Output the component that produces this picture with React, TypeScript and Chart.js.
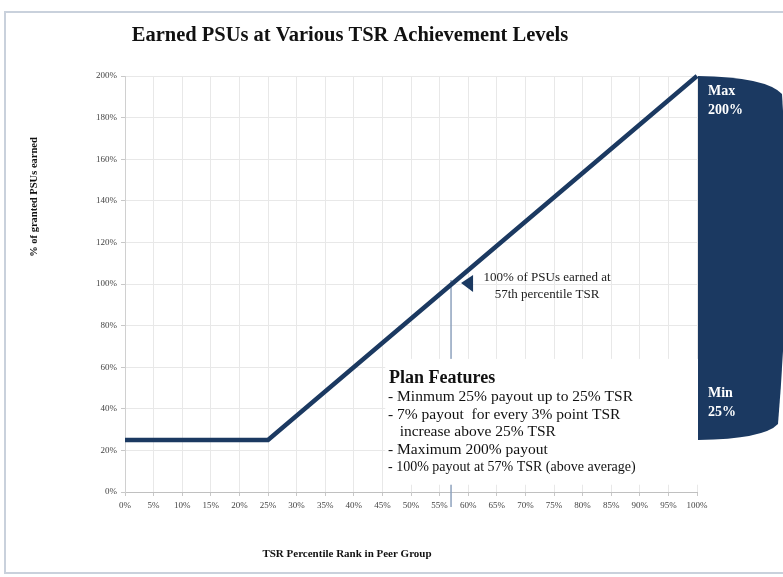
import React, { useEffect, useRef } from "react";
import { Chart, registerables } from "chart.js";

Chart.register(...registerables);

const tsrPercentile = [0, 25, 100];
const payoutPercent = [25, 25, 200];
const xTickStep = 5;
const yTickStep = 20;
const chartTitle = "Earned PSUs at Various TSR Achievement Levels";
const yAxisTitle = "% of granted PSUs earned";
const xAxisTitle = "TSR Percentile Rank in Peer Group";
const annotationX = 57;
const annotationY = 100;
const annotationText = ["100% of PSUs earned at", "57th percentile TSR"];
const planTitle = "Plan Features";
const planLines = [
  "- Minmum 25% payout up to 25% TSR",
  "- 7% payout  for every 3% point TSR",
  "   increase above 25% TSR",
  "- Maximum 200% payout",
  "- 100% payout at 57% TSR (above average)",
];
const maxLabel = ["Max", "200%"];
const minLabel = ["Min", "25%"];
const maxValue = 200;
const minValue = 25;

const NAVY = "#1b3961";
const SERIF = '"Liberation Serif", "Times New Roman", serif';

const overlayPlugin = {
  id: "overlay",
  beforeDatasetsDraw(chart: any) {
    const { ctx, chartArea, scales } = chart;
    const xs = scales.x;
    const ys = scales.y;
    const vx = xs.getPixelForValue(annotationX);
    ctx.save();
    ctx.strokeStyle = "#8ea2bd";
    ctx.lineWidth = 1.5;
    ctx.beginPath();
    ctx.moveTo(vx, ys.getPixelForValue(annotationY) - 4);
    ctx.lineTo(vx, ys.getPixelForValue(0) + 15);
    ctx.stroke();
    const bx = xs.getPixelForValue(45.5);
    const by = ys.getPixelForValue(64);
    const bb = ys.getPixelForValue(3.5);
    ctx.fillStyle = "#ffffff";
    ctx.fillRect(bx, by, chartArea.right - bx + 1, bb - by);
    ctx.restore();
  },
  afterDraw(chart: any) {
    const { ctx, chartArea, scales } = chart;
    const xs = scales.x;
    const ys = scales.y;
    ctx.save();
    ctx.strokeStyle = "#c9d1dc";
    ctx.lineWidth = 2;
    ctx.strokeRect(5, 12, 800, 561);

    ctx.fillStyle = "#111";
    ctx.font = `bold 20.5px ${SERIF}`;
    ctx.textAlign = "center";
    ctx.textBaseline = "middle";
    ctx.fillText(chartTitle, 350, 36);

    ctx.font = `bold 11px ${SERIF}`;
    ctx.fillText(xAxisTitle, 347, 554);
    ctx.save();
    ctx.translate(34, 197);
    ctx.rotate(-Math.PI / 2);
    ctx.font = `bold 10.5px ${SERIF}`;
    ctx.fillText(yAxisTitle, 0, 0);
    ctx.restore();

    const tipX = xs.getPixelForValue(annotationX) + 10;
    const tipY = ys.getPixelForValue(annotationY) - 1;
    ctx.fillStyle = NAVY;
    ctx.beginPath();
    ctx.moveTo(tipX, tipY);
    ctx.lineTo(tipX + 12, tipY - 8);
    ctx.lineTo(tipX + 12, tipY + 9);
    ctx.closePath();
    ctx.fill();

    ctx.fillStyle = "#222";
    ctx.font = `13px ${SERIF}`;
    ctx.textAlign = "center";
    ctx.fillText(annotationText[0], 547, tipY - 5);
    ctx.fillText(annotationText[1], 547, tipY + 12);

    ctx.textAlign = "left";
    ctx.fillStyle = "#111";
    ctx.font = `bold 18px ${SERIF}`;
    ctx.fillText(planTitle, 389, 378);
    planLines.forEach((l, i) => {
      ctx.font = i === planLines.length - 1 ? `14px ${SERIF}` : `15.5px ${SERIF}`;
      ctx.fillText(l, 388, 397 + i * 17.5);
    });

    const L = chartArea.right + 1;
    const T = ys.getPixelForValue(maxValue);
    const B = ys.getPixelForValue(minValue);
    ctx.fillStyle = NAVY;
    ctx.beginPath();
    ctx.moveTo(L, T);
    ctx.quadraticCurveTo(L + 68, T + 1, L + 84, T + 18);
    ctx.quadraticCurveTo(L + 94, (T + B) / 2, L + 80, B - 16);
    ctx.quadraticCurveTo(L + 66, B - 1, L, B);
    ctx.closePath();
    ctx.fill();

    ctx.fillStyle = "#ffffff";
    ctx.font = `bold 14px ${SERIF}`;
    ctx.textAlign = "left";
    ctx.fillText(maxLabel[0], L + 10, T + 15);
    ctx.fillText(maxLabel[1], L + 10, T + 34);
    ctx.fillText(minLabel[0], L + 10, B - 47);
    ctx.fillText(minLabel[1], L + 10, B - 28);
    ctx.restore();
  },
};

export default function App() {
  const ref = useRef<HTMLCanvasElement | null>(null);
  useEffect(() => {
    if (!ref.current) return;
    const points = tsrPercentile.map((x, i) => ({ x, y: payoutPercent[i] }));
    const tickFont = { family: SERIF, size: 9 };
    const chart = new Chart(ref.current, {
      type: "line",
      data: {
        datasets: [
          {
            data: points,
            borderColor: NAVY,
            borderWidth: 4.5,
            pointRadius: 0,
            tension: 0,
            clip: false,
          } as any,
        ],
      },
      options: {
        animation: false,
        responsive: false,
        layout: { padding: { left: 65, right: 86, top: 76, bottom: 55 } },
        plugins: { legend: { display: false }, tooltip: { enabled: false }, title: { display: false } },
        scales: {
          x: {
            type: "linear",
            min: 0,
            max: 100,
            afterFit: (s: any) => {
              s.height = 30;
            },
            ticks: {
              stepSize: xTickStep,
              font: tickFont,
              color: "#444",
              padding: 4,
              maxRotation: 0,
              autoSkip: false,
              callback: (v: any) => `${v}%`,
            },
            grid: { color: "#e8e8e8", tickLength: 4, tickColor: "#c8c8c8" },
            border: { color: "#c0c0c0" },
          },
          y: {
            type: "linear",
            min: 0,
            max: 200,
            afterFit: (s: any) => {
              s.width = 60;
            },
            ticks: {
              stepSize: yTickStep,
              font: tickFont,
              color: "#444",
              padding: 4,
              callback: (v: any) => `${v}%`,
            },
            grid: { color: "#e8e8e8", tickLength: 4, tickColor: "#c8c8c8" },
            border: { color: "#d0d0d0" },
          },
        },
      },
      plugins: [overlayPlugin],
    });
    return () => chart.destroy();
  }, []);
  return (
    <div style={{ position: "absolute", left: 0, top: 0, width: 783, height: 577, background: "#fff" }}>
      <canvas ref={ref} width={783} height={577} style={{ width: 783, height: 577, display: "block" }} />
    </div>
  );
}
